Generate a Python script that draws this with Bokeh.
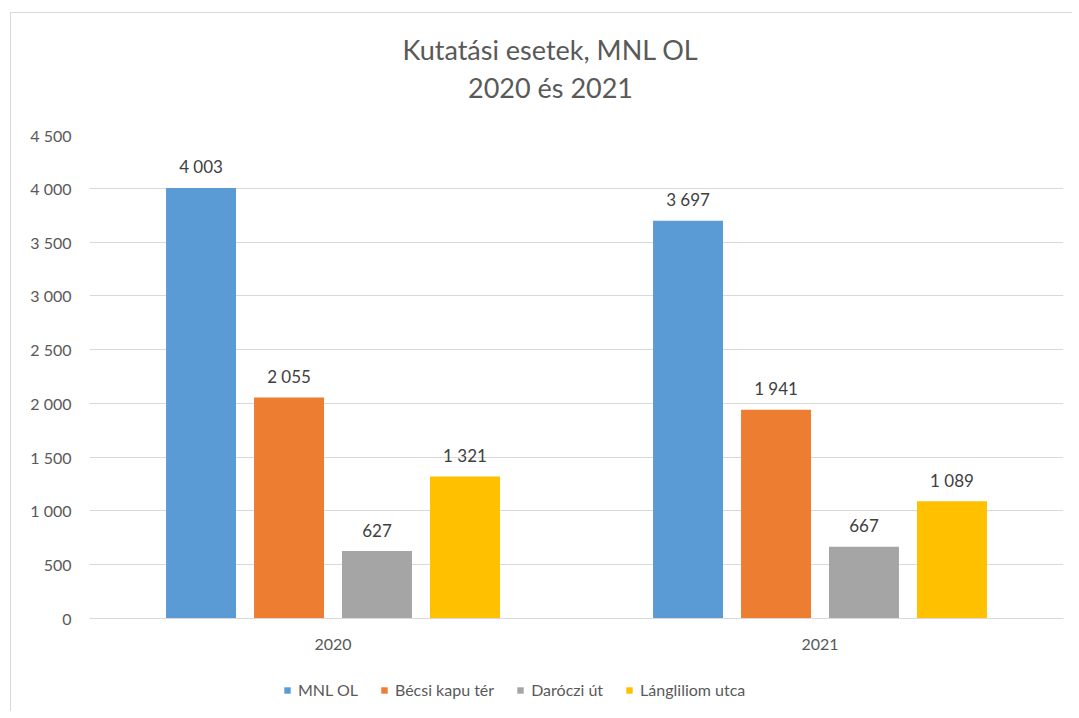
from bokeh.plotting import figure
from bokeh.layouts import column
from bokeh.models import (ColumnDataSource, FixedTicker, Legend, LegendItem,
                          LabelSet, FactorRange, Range1d)
from bokeh.transform import dodge
from bokeh.core.properties import value
from bokeh.embed import file_html
from bokeh.resources import INLINE

# ---- data ----
years = ["2020", "2021"]
series_names = ["MNL OL", "Bécsi kapu tér", "Daróczi út", "Lángliliom utca"]
mnl_ol = [4003, 3697]
becsi_kapu_ter = [2055, 1941]
daroczi_ut = [627, 667]
langliliom_utca = [1321, 1089]
tick_values = [0, 500, 1000, 1500, 2000, 2500, 3000, 3500, 4000, 4500]
tick_labels = ["0", "500", "1 000", "1 500", "2 000", "2 500", "3 000", "3 500", "4 000", "4 500"]
title_lines = ["Kutatási esetek, MNL OL", "2020 és 2021"]

colors = ["#5B9BD5", "#ED7D31", "#A5A5A5", "#FFC000"]
offsets = [-0.271, -0.0903, 0.0903, 0.271]
bar_width = 0.1437
FONT = "Lato"
W = 1061


def fmt(v):
    return f"{v:,}".replace(",", " ")


def blank(fig):
    fig.outline_line_color = None
    fig.xgrid.grid_line_color = None
    fig.ygrid.grid_line_color = None
    fig.background_fill_color = "white"
    fig.border_fill_color = "white"


# ---- main chart ----
x_range = FactorRange(*years)
p = figure(x_range=x_range, y_range=Range1d(0, 4500),
           width=W, height=541, output_backend="svg", toolbar_location=None,
           min_border_left=78, min_border_right=9, min_border_top=9,
           min_border_bottom=48)
p.title = None
blank(p)

sources = []
all_series = [mnl_ol, becsi_kapu_ter, daroczi_ut, langliliom_utca]
for name, vals, col, off in zip(series_names, all_series, colors, offsets):
    src = ColumnDataSource(dict(x=years, top=vals, lbl=[fmt(v) for v in vals]))
    sources.append(src)
    p.vbar(x=dodge("x", off, range=x_range), top="top", width=bar_width,
           source=src, fill_color=col, line_color=None)
    labels = LabelSet(x=dodge("x", off, range=x_range), y="top", text="lbl",
                      source=src, text_align="center", text_baseline="middle",
                      y_offset=21, text_font=value(FONT), text_font_size="17px",
                      text_color="#404040")
    p.add_layout(labels)

p.yaxis.ticker = FixedTicker(ticks=tick_values)
p.yaxis.major_label_overrides = {v: l for v, l in zip(tick_values, tick_labels)}
p.yaxis.axis_line_color = None
p.yaxis.major_tick_line_color = None
p.yaxis.minor_tick_line_color = None
p.yaxis.major_label_standoff = 12
p.yaxis.major_label_text_font = FONT
p.yaxis.major_label_text_font_size = "16px"
p.yaxis.major_label_text_color = "#595959"

p.xaxis.axis_line_color = "#d9d9d9"
p.xaxis.major_tick_line_color = None
p.xaxis.minor_tick_line_color = None
p.xaxis.major_label_standoff = 14
p.xaxis.major_label_text_font = FONT
p.xaxis.major_label_text_font_size = "16px"
p.xaxis.major_label_text_color = "#595959"

p.ygrid.grid_line_color = "#d9d9d9"
p.ygrid.grid_line_width = 1

# ---- header (title); its frame is aligned with the main frame ----
hdr = figure(width=W, height=112, x_range=Range1d(89, 1063), y_range=Range1d(112, 0),
             output_backend="svg", toolbar_location=None,
             x_axis_location=None, y_axis_location=None,
             min_border=0, min_border_left=0, min_border_right=0,
             min_border_top=0, min_border_bottom=0)
blank(hdr)
hdr.text(x=[550, 550], y=[36, 74], text=title_lines, text_align="center",
         text_baseline="middle", text_font=value(FONT), text_font_size="27px",
         text_color="#595959")

# ---- footer (legend) ----
ftr = figure(width=W, height=45, x_range=x_range, y_range=Range1d(0, 1),
             output_backend="svg", toolbar_location=None,
             x_axis_location=None, y_axis_location=None,
             min_border=0, min_border_left=0, min_border_right=0,
             min_border_top=0, min_border_bottom=0)
blank(ftr)
items = []
for name, col, off, src in zip(series_names, colors, offsets, sources):
    # legend-only proxies: non-finite height, so nothing is drawn in the footer
    r = ftr.vbar(x=dodge("x", off, range=x_range), top=float("nan"),
                 width=bar_width, source=src, fill_color=col, line_color=None)
    items.append(LegendItem(label=name, renderers=[r]))
legend = Legend(items=items, orientation="horizontal", location=(194, 12),
                label_text_font=FONT, label_text_font_size="16px",
                label_text_color="#595959", glyph_width=8, glyph_height=8,
                label_standoff=7, spacing=22, padding=0, margin=0,
                border_line_color=None, background_fill_alpha=0)
ftr.add_layout(legend, "center")

layout = column(hdr, p, ftr, spacing=0)
layout.margin = (12, 0, 0, 10)
layout.styles = {"border-top": "1px solid #d9d9d9", "border-left": "1px solid #d9d9d9"}

open("out.html", "w").write(file_html(layout, INLINE))
